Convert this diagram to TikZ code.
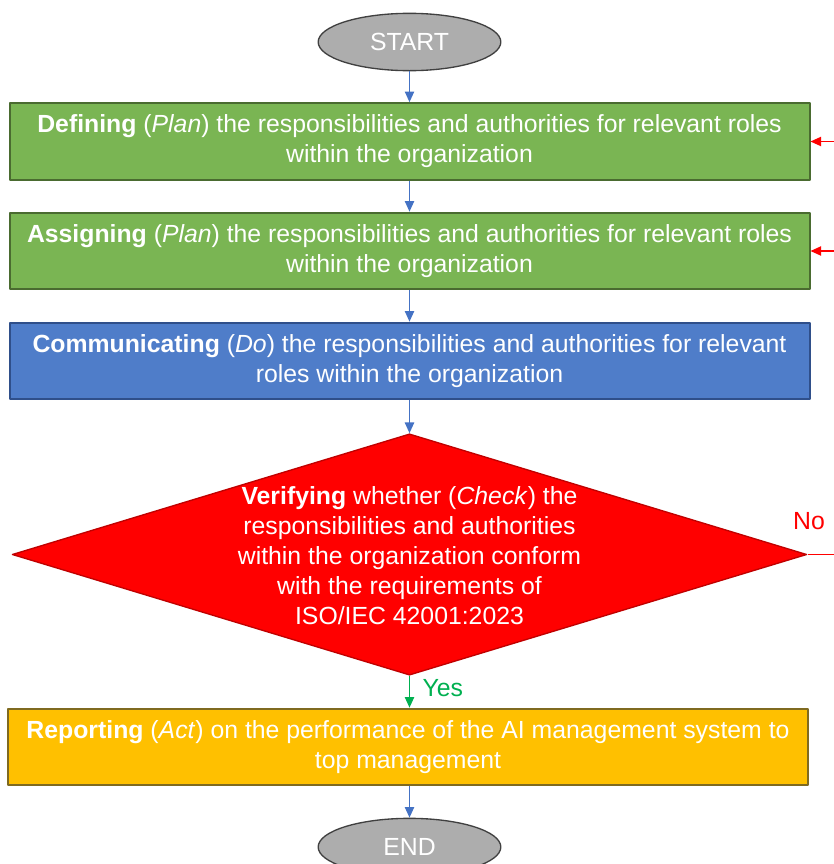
\documentclass[tikz,border=0pt]{standalone}
\usepackage{fontspec}
\setmainfont{Liberation Sans}
\usetikzlibrary{shapes.geometric,arrows.meta}
\definecolor{termgray}{HTML}{ADADAD}
\definecolor{termline}{HTML}{404040}
\definecolor{plangreen}{HTML}{7AB553}
\definecolor{planline}{HTML}{4A6B30}
\definecolor{doblue}{HTML}{4F7DC9}
\definecolor{doline}{HTML}{2F4F8A}
\definecolor{checkred}{HTML}{FF0000}
\definecolor{checkline}{HTML}{C00000}
\definecolor{actyellow}{HTML}{FFC000}
\definecolor{actline}{HTML}{7F6A20}
\definecolor{flowblue}{HTML}{4472C4}
\definecolor{yesgreen}{HTML}{00B050}
\begin{document}
\begin{tikzpicture}[x=0.75pt,y=-0.75pt,line join=round,font=\fontsize{18.6}{22.5}\selectfont,
	terminal/.style={ellipse,draw=termline,fill=termgray,line width=1pt,minimum width=137pt,minimum height=43pt,inner sep=0pt,text=white},
	stepbox/.style={rectangle,line width=1.5pt,minimum width=600pt,minimum height=57.5pt,inner sep=0pt,align=center,text=white},
	flow/.style={-{Triangle[length=8pt,width=7pt]},line width=1pt,flowblue}]
	\useasboundingbox (0,0) rectangle (834,864);
	%Start and end
	\node[terminal] (start) at (409.5,42) {START};
	\node[terminal] (finish) at (409.5,847) {END};
	%Plan
	\node[stepbox,draw=planline,fill=plangreen] (define) at (409.5,141.5) {\textbf{Defining} (\textit{Plan}) the responsibilities and authorities for relevant roles\\within the organization};
	\node[stepbox,draw=planline,fill=plangreen] (assign) at (409.5,251) {\textbf{Assigning} (\textit{Plan}) the responsibilities and authorities for relevant roles\\within the organization};
	%Do
	\node[stepbox,draw=doline,fill=doblue] (commun) at (409.5,361) {\textbf{Communicating} (\textit{Do}) the responsibilities and authorities for relevant\\roles within the organization};
	%Check
	\node[diamond,draw=checkline,fill=checkred,line width=1pt,minimum width=596pt,minimum height=181pt,inner sep=0pt] (verify) at (409.5,554.5) {};
	\node[align=center,text=white] (verifytxt) at (409.5,556) {\textbf{Verifying} whether (\textit{Check}) the\\responsibilities and authorities\\within the organization conform\\with the requirements of\\ISO/IEC 42001:2023};
	%Act
	\node[stepbox,draw=actline,fill=actyellow] (report) at (408,747) {\textbf{Reporting} (\textit{Act}) on the performance of the AI management system to\\top management};
	%Connectors
	\coordinate (back1) at (834,141.5);
	\coordinate (back2) at (834,251);
	\coordinate (noend) at (834,554.5);
	\draw[flow] (start) -- (define);
	\draw[flow] (define) -- (assign);
	\draw[flow] (assign) -- (commun);
	\draw[flow] (commun) -- (verify);
	\draw[flow,yesgreen] (verify.south) -- (verify.south |- report.north) node[pos=0.4,right=6pt,text=yesgreen] {Yes};
	\draw[flow] (report.south -| finish.north) -- (finish);
	\draw[checkred,line width=1pt] (verify.east) -- (noend);
	\node[text=checkred] (nolabel) at (809,521) {No};
	\draw[flow,checkred] (back1) -- (define.east);
	\draw[flow,checkred] (back2) -- (assign.east);
\end{tikzpicture}
\end{document}
